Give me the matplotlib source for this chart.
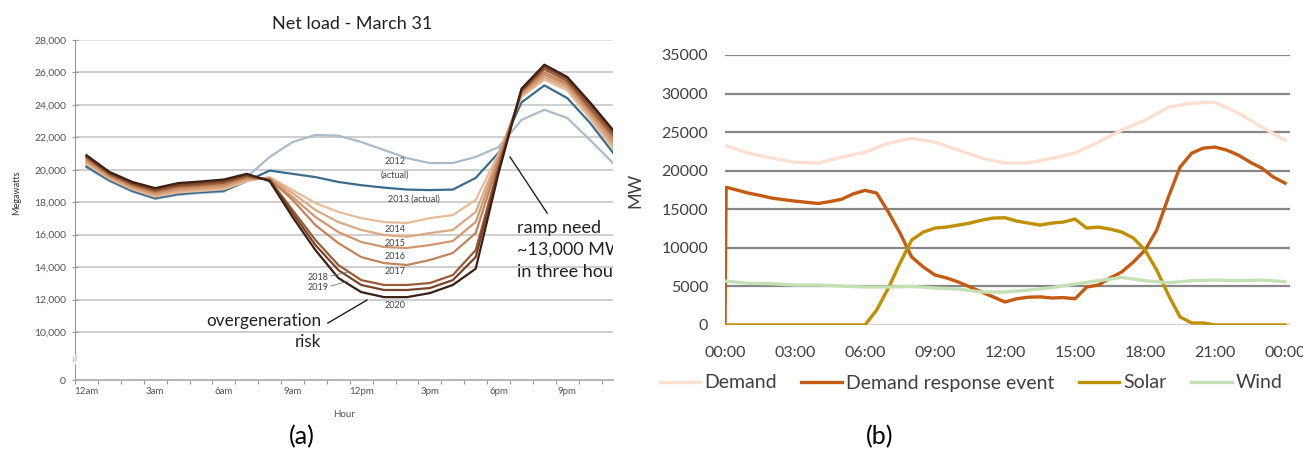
"""
===========================================================
                    Imports
===========================================================
"""
import numpy as np
import matplotlib
matplotlib.use("Agg")
import matplotlib.pyplot as plt

plt.rcParams['font.family'] = ['Lato', 'DejaVu Sans']

"""
===========================================================
                    Data (a) - net load, March 31
===========================================================
"""
hours = list(range(24))
years = ['2012', '2013', '2014', '2015', '2016', '2017', '2018', '2019', '2020']

net_2012 = [20150, 19300, 18650, 18200, 18450, 18570, 18650, 19550, 20790, 21710, 22150, 22100,
            21710, 21220, 20720, 20410, 20420, 20790, 21400, 23070, 23700, 23190, 21830, 20410]
net_2013 = [20200, 19350, 18700, 18250, 18500, 18620, 18700, 19300, 19950, 19750, 19550, 19250,
            19050, 18900, 18780, 18750, 18780, 19500, 21050, 24150, 25200, 24420, 22880, 21050]
net_2014 = [20350, 19450, 18800, 18350, 18600, 18700, 18800, 19300, 19550, 18750, 17950, 17400,
            17020, 16780, 16720, 17020, 17210, 18140, 21000, 24500, 25550, 24900, 23150, 21300]
net_2015 = [20450, 19520, 18875, 18440, 18700, 18800, 18900, 19380, 19500, 18560, 17520, 16780,
            16290, 15980, 15870, 16100, 16290, 17400, 20850, 24600, 25700, 25050, 23350, 21500]
net_2016 = [20550, 19590, 18950, 18530, 18790, 18890, 19000, 19450, 19450, 18320, 17090, 16160,
            15550, 15240, 15180, 15360, 15610, 16780, 20700, 24700, 25850, 25200, 23500, 21700]
net_2017 = [20650, 19660, 19025, 18610, 18890, 18990, 19100, 19530, 19420, 18140, 16590, 15480,
            14620, 14250, 14130, 14440, 14870, 16100, 20500, 24800, 26000, 25300, 23650, 21900]
net_2018 = [20750, 19730, 19100, 18700, 18990, 19080, 19200, 19600, 19380, 17520, 15670, 14130,
            13200, 12900, 12900, 13020, 13510, 15050, 20200, 24850, 26200, 25450, 23800, 22100]
net_2019 = [20820, 19800, 19175, 18790, 19080, 19180, 19300, 19680, 19350, 17330, 15360, 13820,
            12900, 12590, 12590, 12710, 13200, 14620, 20000, 24900, 26350, 25600, 24000, 22300]
net_2020 = [20900, 19870, 19250, 18870, 19180, 19280, 19400, 19750, 19300, 17090, 15050, 13330,
            12460, 12150, 12150, 12400, 12900, 13900, 19800, 25000, 26480, 25720, 24150, 22450]

net_colors = ['#a9bccb', '#3d6b8c', '#e6bc9a', '#dba983', '#d09770', '#c2845a',
              '#9a5c38', '#7a4327', '#3a2015']

left_yticks = [10000, 12000, 14000, 16000, 18000, 20000, 22000, 24000, 26000, 28000]
left_xlabels = ['12am', '3am', '6am', '9am', '12pm', '3pm', '6pm', '9pm']

"""
===========================================================
                    Data (b) - demand response event
===========================================================
"""
hh_demand = list(range(25))
demand = [23300, 22280, 21630, 21100, 20980, 21760, 22400, 23560, 24200, 23700, 22670, 21630,
          21000, 21000, 21600, 22300, 23700, 25260, 26550, 28240, 28750, 28880, 27460, 25650, 23960]
wind = [5700, 5400, 5350, 5180, 5180, 5050, 4920, 4920, 5000, 4790, 4660, 4270,
        4270, 4530, 4830, 5310, 5740, 6170, 5740, 5480, 5740, 5830, 5740, 5830, 5610]

hh_dr = [0, 0.05, 0.5, 1.0, 1.5, 2.0, 2.5, 3.0, 3.5, 4.0, 4.5, 5.0, 5.5, 6.0, 6.5, 7.0, 7.5, 8.0,
         8.5, 9.0, 9.5, 10.0, 10.5, 11.0, 11.5, 12.0, 12.5, 13.0, 13.5, 14.0, 14.5, 15.0, 15.5,
         16.0, 16.5, 17.0, 17.5, 18.0, 18.5, 19.0, 19.5, 20.0, 20.5, 21.0, 21.5, 22.0, 22.5,
         23.0, 23.5, 24.0]
dr_event = [0, 17850, 17500, 17100, 16800, 16450, 16250, 16060, 15900, 15750, 16000, 16300,
            17000, 17450, 17100, 14640, 11920, 8810, 7510, 6480, 6090, 5570, 4920, 4270, 3630,
            2980, 3400, 3600, 3650, 3500, 3550, 3400, 4920, 5180, 6090, 6870, 8160, 9710, 12300,
            16580, 20470, 22280, 22930, 23060, 22670, 22020, 21110, 20340, 19170, 18390]

hh_solar = [0, 1, 2, 3, 4, 5, 6.0, 6.5, 7.0, 7.5, 8.0, 8.5, 9.0, 9.5, 10.0, 10.5, 11.0, 11.5,
            12.0, 12.5, 13.0, 13.5, 14.0, 14.5, 15.0, 15.5, 16.0, 16.5, 17.0, 17.5, 18.0, 18.5,
            19.0, 19.5, 20.0, 20.5, 21.0, 22.0, 23.0, 24.0]
solar = [0, 0, 0, 0, 0, 0, 0, 1940, 4790, 8030, 11010, 12050, 12560, 12700, 12950, 13210, 13600,
         13860, 13900, 13470, 13210, 12950, 13210, 13340, 13730, 12560, 12690, 12430, 12050,
         11270, 9710, 7120, 3890, 1040, 260, 260, 0, 0, 0, 0]

right_xticks = [0, 3, 6, 9, 12, 15, 18, 21, 24]
right_xlabels = ['00:00', '03:00', '06:00', '09:00', '12:00', '15:00', '18:00', '21:00', '00:00']

"""
===========================================================
                    Draw
===========================================================
"""
fig = plt.figure(figsize=(13.03, 4.53), dpi=100)

# ---------------- (a) ----------------
ax = fig.add_axes([0.0576, 0.1611, 0.4129, 0.7506])
zero_pos = 7041   # where the "0" tick sits on the broken axis

for v in left_yticks:
    ax.axhline(v, color='#cfcfcf' if v < 28000 else '#e4e4e4', lw=1.4, zorder=0)

series = [net_2012, net_2013, net_2014, net_2015, net_2016, net_2017, net_2018, net_2019, net_2020]
for s, c in zip(series, net_colors):
    ax.plot(hours, s, color=c, lw=1.6, zorder=2)

ax.set_xlim(-0.5, 23)
ax.set_ylim(zero_pos, 28000)
ax.set_yticks(left_yticks + [zero_pos])
ax.set_yticklabels(['{:,}'.format(v) for v in left_yticks] + ['0'])
ax.set_xticks(range(0, 24, 3))
ax.set_xticklabels(left_xlabels)
ax.set_xticks(np.arange(-0.5, 23, 1), minor=True)
ax.tick_params(axis='y', direction='inout', length=5, width=0.8, color='#999999',
               labelsize=7.5, labelcolor='#555555', pad=4)
ax.tick_params(axis='x', which='major', length=0, labelsize=7, labelcolor='#555555', pad=5)
ax.tick_params(axis='x', which='minor', direction='out', length=3, width=0.8, color='#999999')
for sp in ['top', 'right']:
    ax.spines[sp].set_visible(False)
ax.spines['left'].set_color('#999999')
ax.spines['bottom'].set_color('#aaaaaa')
ax.spines['bottom'].set_linewidth(1.2)

ax.text(-0.5, 8300, '//', fontsize=6, color='#777777', ha='center', va='center',
        rotation=20, clip_on=False, bbox=dict(fc='white', ec='none', pad=0.5))

ax.set_title('Net load - March 31', fontsize=13, color='#222222', pad=8, x=0.515)
ax.set_ylabel('Megawatts', fontsize=6.5, color='#333333')
ax.set_xlabel('Hour', fontsize=7, color='#555555', labelpad=10)
ax.yaxis.set_label_coords(-0.1, 0.55)

lab = dict(fontsize=6.5, color='#444444', ha='center', va='center')
ax.text(13.47, 20480, '2012', **lab)
ax.text(13.47, 19680, '(actual)', **lab)
ax.text(14.3, 18200, '2013 (actual)', **lab)
ax.text(13.47, 16290, '2014', **lab)
ax.text(13.47, 15480, '2015', **lab)
ax.text(13.47, 14680, '2016', **lab)
ax.text(13.47, 13700, '2017', **lab)
ax.text(13.47, 11660, '2020', **lab)
ax.text(10.1, 13390, '2018', **lab)
ax.text(10.1, 12770, '2019', **lab)
ax.plot([10.67, 11.42], [13450, 13700], color='#777777', lw=0.6)
ax.plot([10.67, 11.42], [12830, 13140], color='#777777', lw=0.6)

ax.text(10.24, 10680, 'overgeneration', fontsize=12.3, color='#222222', ha='right', va='center')
ax.text(10.24, 9380, 'risk', fontsize=12.3, color='#222222', ha='right', va='center')
ax.plot([10.54, 12.25], [10550, 11970], color='#222222', lw=1.0)

ramp = dict(fontsize=13, color='#222222', va='center', clip_on=True)
ax.text(18.8, 16410, 'ramp need', **ramp)
ax.text(18.8, 15050, '~13,000 MW', **ramp)
ax.text(18.8, 13700, 'in three hours', **ramp)
ax.plot([18.5, 20.12], [20790, 17330], color='#222222', lw=1.0)

# ---------------- (b) ----------------
bx = fig.add_axes([0.5564, 0.2826, 0.4336, 0.596])
for v in range(5000, 35001, 5000):
    bx.axhline(v, color='#878787', lw=1.6, zorder=0)
bx.axhline(0, color='#d0d0d0', lw=1.6, zorder=0)

bx.plot(hh_demand, demand, color='#fbe0d1', lw=2.4, label='Demand')
bx.plot(hh_dr, dr_event, color='#c55a11', lw=2.4, label='Demand response event')
bx.plot(hh_solar, solar, color='#bf9000', lw=2.4, label='Solar')
bx.plot(hh_demand, wind, color='#c5e0b4', lw=2.4, label='Wind')

bx.set_xlim(0, 24.21)
bx.set_ylim(0, 35000)
bx.set_yticks(range(0, 35001, 5000))
bx.set_xticks(right_xticks)
bx.set_xticklabels(right_xlabels)
bx.tick_params(length=0, labelsize=11.5, labelcolor='#404040')
bx.tick_params(axis='y', pad=12)
bx.tick_params(axis='x', pad=15)
for sp in bx.spines.values():
    sp.set_visible(False)
bx.set_ylabel('MW', fontsize=13, color='#404040', labelpad=13)

fig.legend(loc='center', bbox_to_anchor=(971 / 1303, 1 - 383 / 453), ncol=4, frameon=False,
           fontsize=14, handlelength=2.1, handletextpad=0.2, columnspacing=1.25,
           labelcolor='#404040')

fig.text(302 / 1303, 1 - 437 / 453, '(a)', fontsize=18, ha='center', va='center')
fig.text(880 / 1303, 1 - 437 / 453, '(b)', fontsize=18, ha='center', va='center')

fig.savefig('out.png', dpi=100)
